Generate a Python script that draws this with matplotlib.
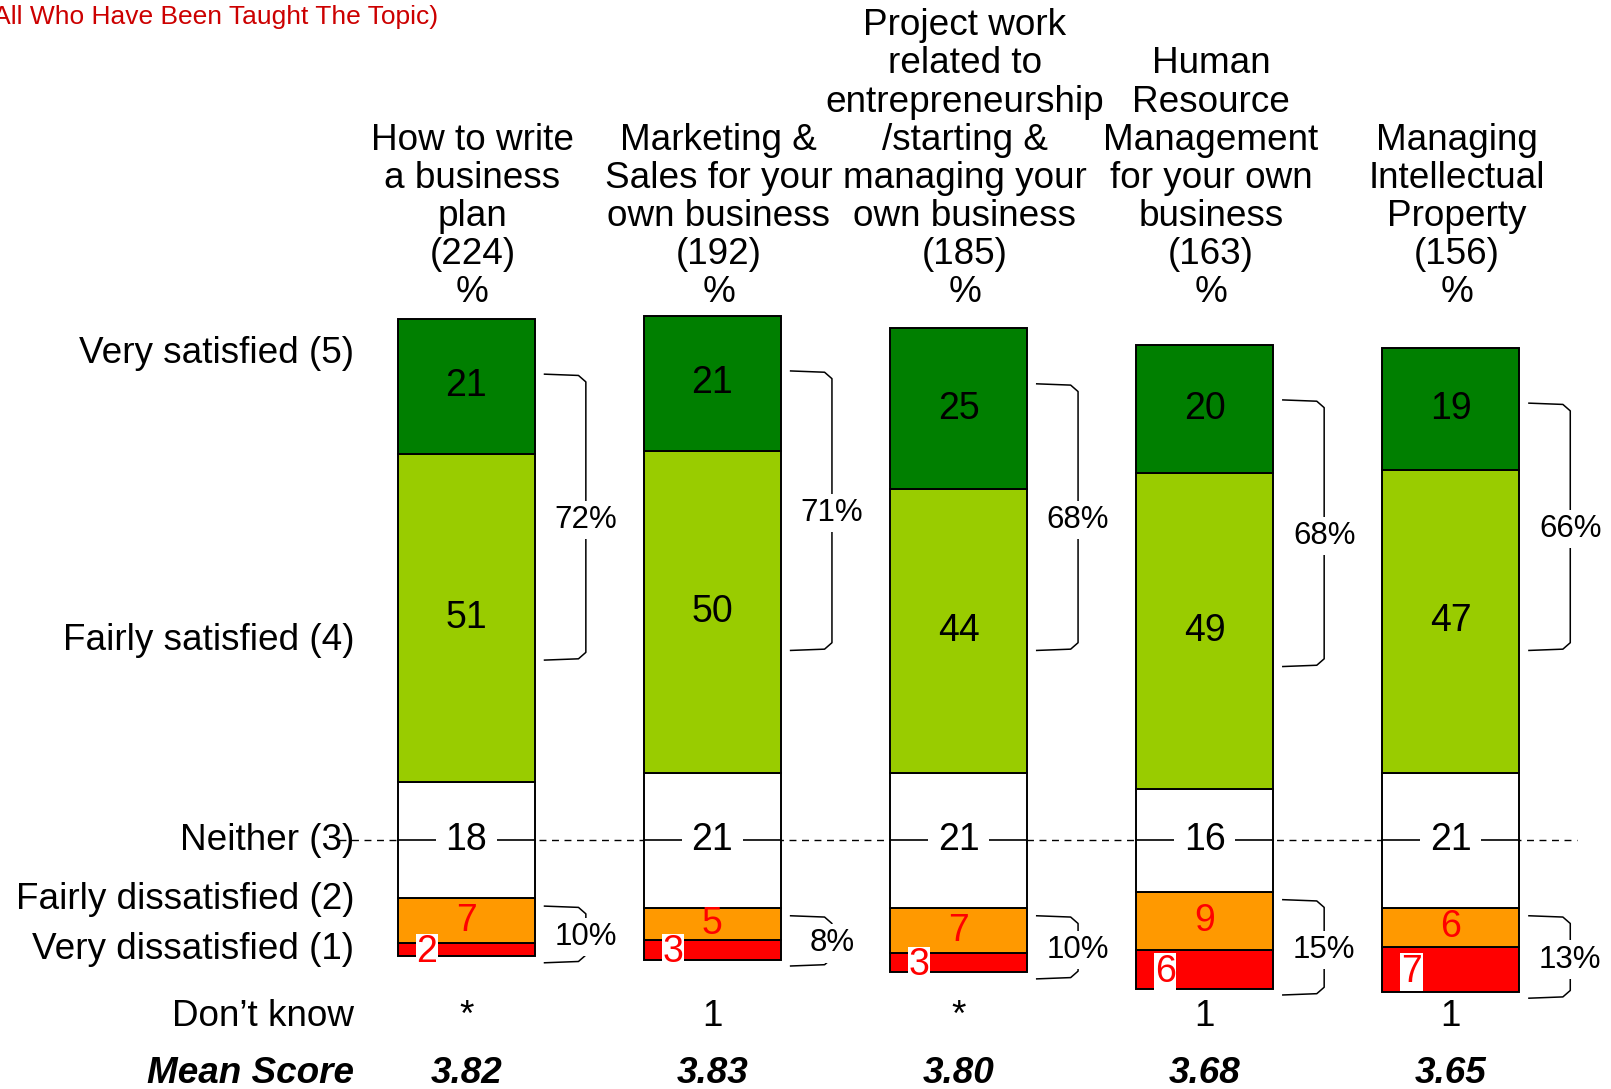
import numpy as np
import matplotlib.pyplot as plt

plt.rcParams['font.family'] = ['Liberation Sans', 'DejaVu Sans']

# Satisfaction with entrepreneurship topics taught (%)
topics = [
    "How to write\na business\nplan",
    "Marketing &\nSales for your\nown business",
    "Project work\nrelated to\nentrepreneurship\n/starting &\nmanaging your\nown business",
    "Human\nResource\nManagement\nfor your own\nbusiness",
    "Managing\nIntellectual\nProperty",
]
bases = [224, 192, 185, 163, 156]

very_satisfied = [21, 21, 25, 20, 19]
fairly_satisfied = [51, 50, 44, 49, 47]
neither = [18, 21, 21, 16, 21]
fairly_dissatisfied = [7, 5, 7, 9, 6]
very_dissatisfied = [2, 3, 3, 6, 7]

net_satisfied = [72, 71, 68, 68, 66]
net_dissatisfied = [10, 8, 10, 15, 13]
dont_know = ["*", "1", "*", "1", "1"]
mean_scores = [3.82, 3.83, 3.80, 3.68, 3.65]

row_labels = ["Very satisfied (5)", "Fairly satisfied (4)", "Neither (3)",
              "Fairly dissatisfied (2)", "Very dissatisfied (1)", "Don\u2019t know"]

c_very_sat = "#007F00"
c_fair_sat = "#99CC00"
c_neither = "#FFFFFF"
c_fair_dis = "#FF9900"
c_very_dis = "#FF0000"

fig = plt.figure(figsize=(16.11, 10.89), dpi=100)
ax = fig.add_axes([0, 0, 1, 1])
ax.set_xlim(-1.895, 4.651)
ax.set_ylim(-38.6, 130.5)
ax.axis('off')

x = np.arange(len(topics))
w = 0.555
vs = np.array(very_satisfied)
fs = np.array(fairly_satisfied)
ne = np.array(neither)
fd = np.array(fairly_dissatisfied)
vd = np.array(very_dissatisfied)

# bars are centred on the middle of the "neither" block
ne_bot = -ne / 2
fd_bot = ne_bot - fd
vd_bot = fd_bot - vd
fs_bot = ne / 2
vs_bot = fs_bot + fs

bar_kw = dict(width=w, edgecolor='black', linewidth=1.4, zorder=2)
ax.bar(x, vd, bottom=vd_bot, color=c_very_dis, **bar_kw)
ax.bar(x, fd, bottom=fd_bot, color=c_fair_dis, **bar_kw)
ax.bar(x, ne, bottom=ne_bot, color=c_neither, **bar_kw)
ax.bar(x, fs, bottom=fs_bot, color=c_fair_sat, **bar_kw)
ax.bar(x, vs, bottom=vs_bot, color=c_very_sat, **bar_kw)

# neutral line
ax.plot([-0.518, 4.513], [0, 0], color='black', lw=1.0, ls=(0, (5, 4)), zorder=1)

seg_fs = 27
for i in x:
    ax.plot([i - w / 2, i + w / 2], [0, 0], color='black', lw=1.2, zorder=3)
    ax.text(i, vs_bot[i] + vs[i] / 2, str(vs[i]), ha='center', va='center', fontsize=seg_fs, zorder=4)
    ax.text(i, fs_bot[i] + fs[i] / 2, str(fs[i]), ha='center', va='center', fontsize=seg_fs, zorder=4)
    ax.text(i, 0, str(ne[i]), ha='center', va='center', fontsize=seg_fs, zorder=4,
            bbox=dict(facecolor='white', edgecolor='none', pad=7))
    ax.text(i, fd_bot[i] + fd[i] / 2, str(fd[i]), ha='center', va='center', fontsize=seg_fs,
            color='#FF0000', zorder=4)
    ax.text(i - 0.16, vd_bot[i] + vd[i] / 2 - 0.4, str(vd[i]), ha='center', va='center', fontsize=seg_fs,
            color='#FF0000', zorder=5, bbox=dict(facecolor='white', edgecolor='none', pad=0.5))


def bracket(xc, top, bot, label):
    x0 = xc + w / 2 + 0.04
    xv = xc + w / 2 + 0.208
    ax.plot([x0, xv - 0.03, xv, xv, xv - 0.03, x0],
            [top, top - 0.2, top - 1.2, bot + 1.2, bot + 0.2, bot],
            color='black', lw=1.1, zorder=2)
    ax.text(xv, (top + bot) / 2 - 0.4, f"{label}%", ha='center', va='center', fontsize=22.5, zorder=3,
            bbox=dict(facecolor='white', edgecolor='none', pad=3))


for i in x:
    bracket(i, vs_bot[i] + vs[i] - 8.6, fs_bot[i] + 19.0, net_satisfied[i])
    bracket(i, fd_bot[i] + fd[i] - 1.2, vd_bot[i] - 1.0, net_dissatisfied[i])

# column headers
for i in x:
    ax.text(i + 0.025, 83.6, f"{topics[i]}\n({bases[i]})\n%", ha='center', va='baseline',
            multialignment='center', fontsize=26.6, linespacing=1.115)

# row labels
row_y = [75.6, 31.1, 0, -9.1, -16.9, -27.3]
for lab, yy in zip(row_labels, row_y):
    ax.text(-0.455, yy, lab, ha='right', va='center', fontsize=26.6)
ax.text(-0.455, -36.2, "Mean Score", ha='right', va='center', fontsize=26.6,
        fontweight='bold', fontstyle='italic')

for i in x:
    ax.text(i, -27.3, dont_know[i], ha='center', va='center', fontsize=26.6)
    ax.text(i, -36.2, f"{mean_scores[i]:.2f}", ha='center', va='center', fontsize=26.6,
            fontweight='bold', fontstyle='italic')

ax.text(-0.113, 127.8, "(Base: All Who Have Been Taught The Topic)", ha='right', va='center',
        color='#CC0000', fontsize=19)

fig.savefig('out.png', dpi=100)
